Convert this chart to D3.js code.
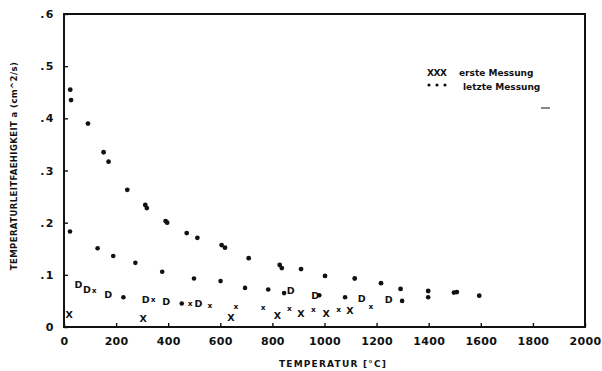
<!DOCTYPE html>
<html>
<head>
<meta charset="utf-8">
<script src="https://cdn.jsdelivr.net/npm/d3@7"></script>
<style>
  html, body { margin: 0; padding: 0; background: #fff; }
  svg text { font-family: "DejaVu Sans", sans-serif; fill: #111; }
</style>
</head>
<body>
<svg id="chart" width="602" height="371"></svg>
<script>
// Temperature axis ticks and diffusivity axis ticks
const xTicks = [0, 200, 400, 600, 800, 1000, 1200, 1400, 1600, 1800, 2000];
const yTicks = [0, 0.1, 0.2, 0.3, 0.4, 0.5, 0.6];
const yTickLabels = ["0", ".1", ".2", ".3", ".4", ".5", ".6"];

// letzte Messung, upper branch [T (°C), a (cm^2/s)]
const letzteOben = [
  [24, 0.455], [27, 0.435], [92, 0.390], [152, 0.335], [171, 0.317], [243, 0.263],
  [312, 0.234], [318, 0.228], [390, 0.203], [396, 0.200], [471, 0.180], [512, 0.171],
  [605, 0.157], [618, 0.152], [709, 0.132], [828, 0.119], [836, 0.113], [910, 0.111],
  [1002, 0.098], [1116, 0.093], [1217, 0.084], [1292, 0.073], [1398, 0.069],
  [1497, 0.066], [1508, 0.067], [1594, 0.060]
];
// letzte Messung, lower branch
const letzteUnten = [
  [23, 0.183], [129, 0.151], [189, 0.136], [274, 0.123], [377, 0.106], [499, 0.093],
  [601, 0.088], [695, 0.075], [784, 0.072], [845, 0.065], [980, 0.061], [1079, 0.057],
  [1298, 0.050], [1398, 0.057], [228, 0.057], [452, 0.045]
];
// plotter "D" symbols
const dMarken = [
  [55, 0.082], [88, 0.071], [170, 0.063], [314, 0.053], [392, 0.049], [516, 0.045],
  [870, 0.069], [964, 0.061], [1143, 0.054], [1246, 0.052]
];
// erste Messung, small crosses
const ersteKlein = [
  [116, 0.069], [342, 0.053], [484, 0.045], [560, 0.040], [660, 0.039], [765, 0.037],
  [865, 0.035], [957, 0.034], [1054, 0.034], [1178, 0.038]
];
// erste Messung, large crosses
const ersteGross = [
  [20, 0.023], [304, 0.017], [641, 0.019], [819, 0.022], [909, 0.025], [1006, 0.026],
  [1098, 0.031]
];

const svg = d3.select("#chart");
const x = d3.scaleLinear().domain([0, 2000]).range([64, 585]);
const y = d3.scaleLinear().domain([0, 0.6]).range([327, 14]);

// plot frame
svg.append("rect")
  .attr("x", x(0)).attr("y", y(0.6))
  .attr("width", x(2000) - x(0)).attr("height", y(0) - y(0.6))
  .attr("fill", "none").attr("stroke", "#111").attr("stroke-width", 2);

// x axis
const gx = svg.append("g").attr("transform", `translate(0,${y(0)})`)
  .call(d3.axisBottom(x).tickValues(xTicks).tickSize(-4).tickPadding(10).tickFormat(d3.format("d")));
gx.select(".domain").remove();
gx.selectAll("line").attr("stroke", "#111").attr("stroke-width", 1.4);
gx.selectAll("text").attr("font-size", 11).attr("font-weight", "bold").attr("letter-spacing", 0.3);

// y axis
const gy = svg.append("g").attr("transform", `translate(${x(0)},0)`)
  .call(d3.axisLeft(y).tickValues(yTicks).tickSize(-4).tickPadding(9)
    .tickFormat((d, i) => yTickLabels[i]));
gy.select(".domain").remove();
gy.selectAll("line").attr("stroke", "#111").attr("stroke-width", 1.4);
gy.selectAll("text").attr("font-size", 11).attr("font-weight", "bold").attr("letter-spacing", 1.5);

// axis titles
svg.append("text")
  .attr("x", 333).attr("y", 367).attr("text-anchor", "middle")
  .attr("font-size", 9).attr("font-weight", "bold").attr("letter-spacing", 1.2)
  .text("TEMPERATUR [°C]");
svg.append("text")
  .attr("transform", "translate(17,166) rotate(-90)").attr("text-anchor", "middle")
  .attr("font-size", 8.5).attr("font-weight", "bold").attr("letter-spacing", 0.4)
  .text("TEMPERATURLEITFAEHIGKEIT a (cm^2/s)");

// data marks
const marks = svg.append("g");
marks.selectAll("circle.oben").data(letzteOben).join("circle")
  .attr("class", "oben").attr("cx", d => x(d[0])).attr("cy", d => y(d[1]))
  .attr("r", 2.4).attr("fill", "#111");
marks.selectAll("circle.unten").data(letzteUnten).join("circle")
  .attr("class", "unten").attr("cx", d => x(d[0])).attr("cy", d => y(d[1]))
  .attr("r", 2.3).attr("fill", "#111");
marks.selectAll("text.d").data(dMarken).join("text")
  .attr("class", "d").attr("x", d => x(d[0])).attr("y", d => y(d[1]))
  .attr("dy", "0.36em").attr("text-anchor", "middle")
  .attr("font-size", 9.5).attr("font-weight", "bold").text("D");
marks.selectAll("text.xk").data(ersteKlein).join("text")
  .attr("class", "xk").attr("x", d => x(d[0])).attr("y", d => y(d[1]))
  .attr("dy", "0.3em").attr("text-anchor", "middle")
  .attr("font-size", 7.5).attr("font-weight", "bold").text("x");
marks.selectAll("text.xg").data(ersteGross).join("text")
  .attr("class", "xg").attr("x", d => x(d[0])).attr("y", d => y(d[1]))
  .attr("dy", "0.36em").attr("text-anchor", "middle")
  .attr("font-size", 9.5).attr("font-weight", "bold").text("X");

// legend
const lg = svg.append("g").attr("font-size", 9).attr("font-weight", "bold");
lg.append("text").attr("x", 427).attr("y", 76).attr("letter-spacing", -0.5).text("XXX");
lg.append("text").attr("x", 459).attr("y", 76).text("erste Messung");
lg.selectAll("circle").data([0, 1, 2]).join("circle")
  .attr("cx", i => 429 + i * 8).attr("cy", 85).attr("r", 1.6).attr("fill", "#111");
lg.append("text").attr("x", 463).attr("y", 90).text("letzte Messung");
svg.append("line").attr("x1", 541).attr("x2", 550).attr("y1", 108).attr("y2", 108)
  .attr("stroke", "#111").attr("stroke-width", 1);
</script>
</body>
</html>
